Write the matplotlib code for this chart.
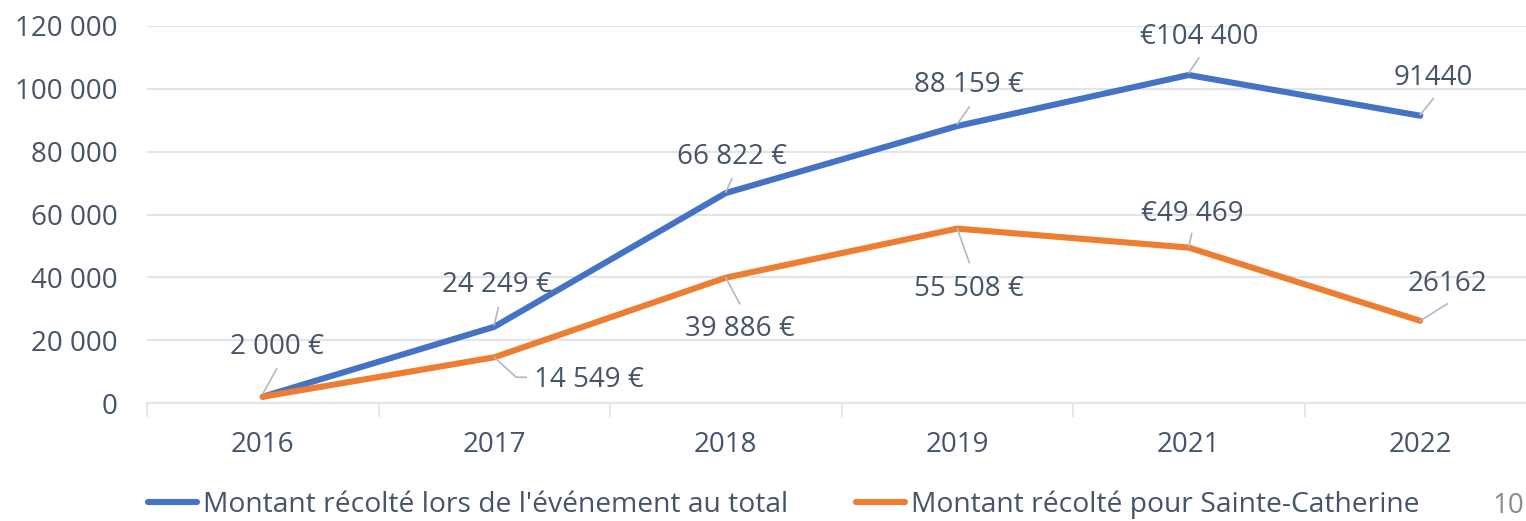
import numpy as np
import matplotlib
matplotlib.use("Agg")
import matplotlib.pyplot as plt
from matplotlib.transforms import IdentityTransform

# data
years = ["2016", "2017", "2018", "2019", "2021", "2022"]
total = [2000, 24249, 66822, 88159, 104400, 91440]
sainte_catherine = [2000, 14549, 39886, 55508, 49469, 26162]
total_labels = ["2 000 €", "24 249 €", "66 822 €", "88 159 €", "€104 400", "91440"]
sc_labels = [None, "14 549 €", "39 886 €", "55 508 €", "€49 469", "26162"]
yticks = [0, 20000, 40000, 60000, 80000, 100000, 120000]
ytick_labels = ["0", "20 000", "40 000", "60 000", "80 000", "100 000", "120 000"]
series_names = ["Montant récolté lors de l'événement au total",
                "Montant récolté pour Sainte-Catherine"]

TEXT = "#44546A"
GRID = "#E1E5EB"
LEADER = "#AEB9C8"
BLUE = "#4472C4"
ORANGE = "#ED7D31"

plt.rcParams["font.family"] = ["Open Sans", "DejaVu Sans"]

fig = plt.figure(figsize=(15.26, 5.21), dpi=100)
W, H = 1526, 521
ax = fig.add_axes([147 / W, (H - 403) / H, (1536 - 147) / W, 377 / H])

x = np.arange(len(years))
ax.plot(x, total, color=BLUE, lw=4.4, solid_capstyle="round", solid_joinstyle="miter", zorder=3)
ax.plot(x, sainte_catherine, color=ORANGE, lw=4.4, solid_capstyle="round", solid_joinstyle="miter", zorder=3)

ax.set_xlim(-0.5, len(years) - 0.5)
ax.set_ylim(0, 120000)
ax.set_yticks(yticks)
ax.set_yticklabels(ytick_labels)
ax.set_xticks(x)
ax.set_xticklabels(years)
ax.set_xticks(np.arange(-0.5, len(years)), minor=True)
ax.tick_params(axis="y", length=0, pad=21, labelsize=20, labelcolor=TEXT)
ax.tick_params(axis="x", which="major", length=0, pad=20, labelsize=20, labelcolor=TEXT)
ax.tick_params(axis="x", which="minor", length=10, width=1.3, color=GRID)
ax.grid(axis="y", color=GRID, lw=1.5, zorder=0)
for s in ["top", "right", "left"]:
    ax.spines[s].set_visible(False)
ax.spines["bottom"].set_color(GRID)
ax.spines["bottom"].set_linewidth(1.5)

# label placement: (text dx, dy) and leader path, offsets in pixels from the point
total_pos = [
    ((14, 50), [(0, 3), (14, 28)]),
    ((3, 42), [(0, 2), (4, 19)]),
    ((6, 36), [(0, 1), (6, 14)]),
    ((12, 41), [(0, 2), (12, 19)]),
    ((10, 38), [(0, 2), (10, 17)]),
    ((13, 38), [(0, 1), (13, 17)]),
]
sc_pos = [
    None,
    ((95, -23), [(0, 0), (22, -20), (32, -20)]),
    ((14, -51), [(0, 0), (14, -26)]),
    ((12, -60), [(0, 0), (12, -34)]),
    ((4, 34), [(0, 1), (3, 14)]),
    ((27, 37), [(0, 0), (27, 17)]),
]

fig.canvas.draw()
for vals, labels, pos in [(total, total_labels, total_pos), (sainte_catherine, sc_labels, sc_pos)]:
    for i, (v, lab) in enumerate(zip(vals, labels)):
        if lab is None:
            continue
        (tdx, tdy), path = pos[i]
        px, py = ax.transData.transform((i, v))
        xs = [px + p[0] for p in path]
        ys = [py + p[1] for p in path]
        ax.plot(xs, ys, color=LEADER, lw=1.2, transform=IdentityTransform(), zorder=4, clip_on=False)
        ax.annotate(lab, (i, v), xytext=(tdx, tdy), textcoords="offset pixels",
                    ha="center", va="center", fontsize=20, color=TEXT, zorder=5)

# legend
handles = [plt.Line2D([], [], color=BLUE, lw=4.4, solid_capstyle="round"),
           plt.Line2D([], [], color=ORANGE, lw=4.4, solid_capstyle="round")]
fig.legend(handles, series_names, loc="center left", bbox_to_anchor=(148 / W, (H - 505) / H),
           ncol=2, frameon=False, fontsize=20.3, labelcolor=TEXT, handlelength=1.75,
           handletextpad=0.2, columnspacing=2.4, borderaxespad=0, borderpad=0)

fig.text(1492 / W, (H - 506) / H, "10", fontsize=20, color="#8C8C8C", ha="left", va="center")

fig.savefig("out.png", dpi=100)
